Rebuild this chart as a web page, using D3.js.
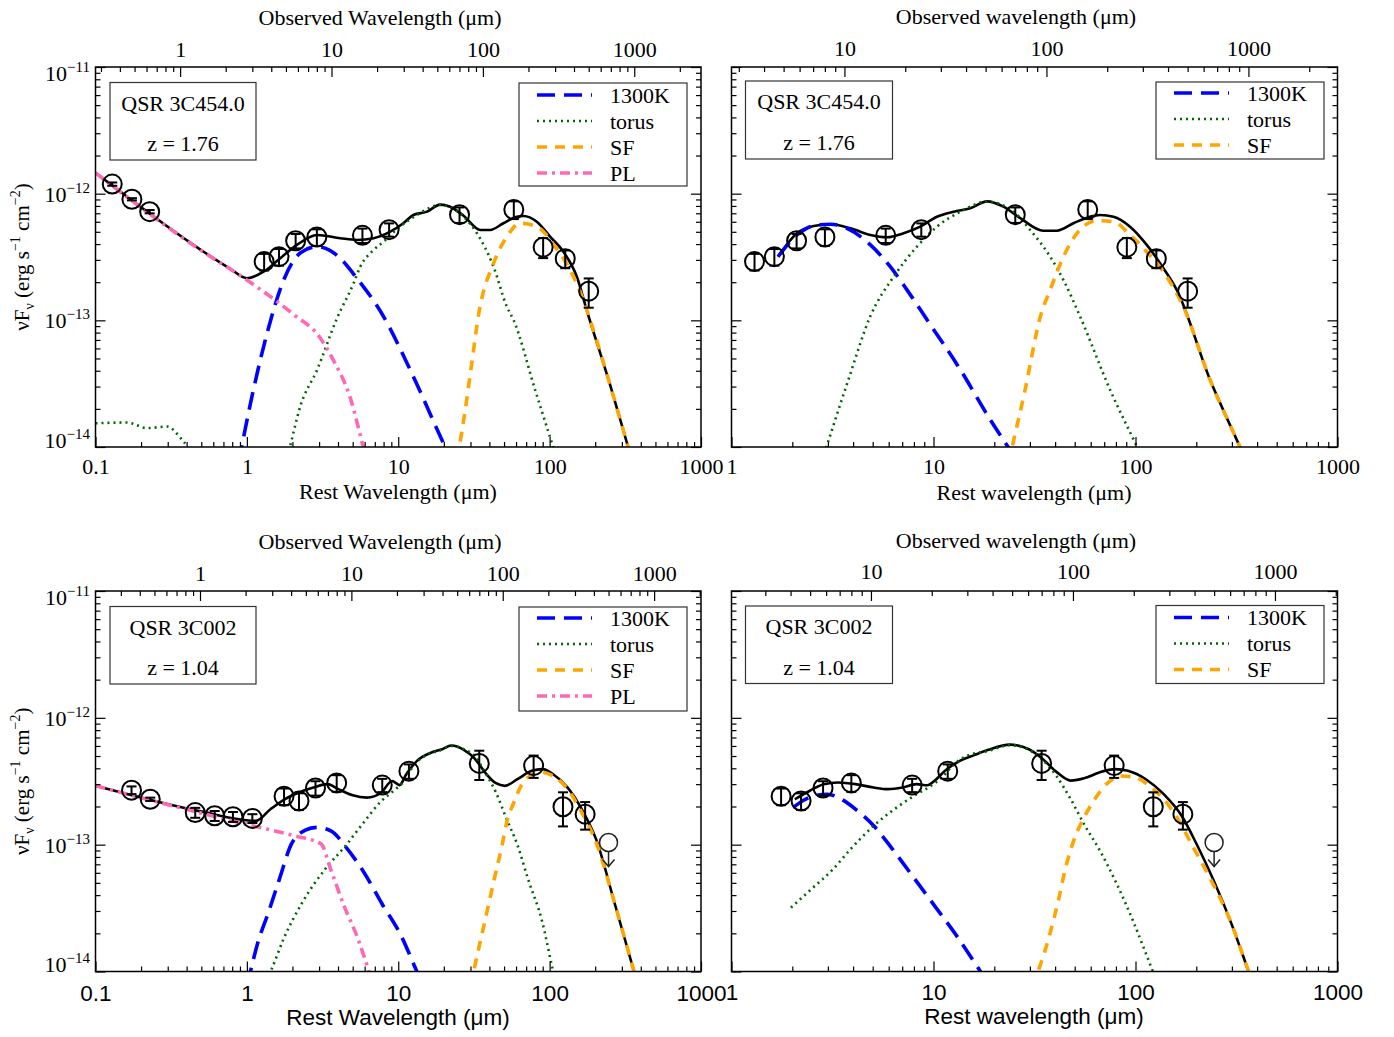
<!DOCTYPE html>
<html><head><meta charset="utf-8">
<script src="https://cdn.jsdelivr.net/npm/d3@7/dist/d3.min.js"></script>
<style>html,body{margin:0;padding:0;background:#fff}</style>
</head><body>
<svg id="chart" width="1394" height="1037" xmlns="http://www.w3.org/2000/svg"></svg>
<script>
// ---------------- photometry (rest wavelength in micron, nuFnu in erg/s/cm2) ----------------
const wl3C454   = [0.129, 0.174, 0.228, 1.30, 1.63, 2.10, 2.90, 5.80, 8.70, 25.4, 58.0, 90.6, 126.8, 181.2];
const flux3C454 = [1.19e-12, 9.03e-13, 7.21e-13, 2.91e-13, 3.18e-13, 4.25e-13, 4.55e-13, 4.69e-13, 5.20e-13, 6.83e-13, 7.50e-13, 3.78e-13, 3.07e-13, 1.70e-13];
const err3C454  = [0.03, 0.02, 0.03, 0.15, 0.15, 0.13, 0.15, 0.13, 0.12, 0.14, 0.16, 0.18, 0.16, 0.26];

const wl3C002   = [0.173, 0.230, 0.456, 0.613, 0.809, 1.087, 1.76, 2.21, 2.84, 3.92, 7.84, 11.76, 34.3, 78.4, 122.5, 171.6];
const flux3C002 = [2.69e-13, 2.28e-13, 1.79e-13, 1.69e-13, 1.66e-13, 1.61e-13, 2.41e-13, 2.21e-13, 2.80e-13, 3.07e-13, 2.95e-13, 3.80e-13, 4.37e-13, 4.20e-13, 1.99e-13, 1.74e-13];
const err3C002  = [0.07, 0.03, 0.09, 0.09, 0.09, 0.08, 0.15, 0.15, 0.13, 0.15, 0.12, 0.13, 0.26, 0.20, 0.30, 0.245];
const ulWl3C002 = [245];
const ulFlux3C002 = [1.04e-13];

// ---------------- model curves [rest wavelength, nuFnu] ----------------
// top-left (3C454.0, with power law)
const tlTotal = [[0.1,1.46e-12],[0.493,3.62e-13],[0.778,2.55e-13],[1.0,2.15e-13],[1.29,2.42e-13],[1.66,3.09e-13],[2.14,3.94e-13],[2.91,4.72e-13],[4.14,4.45e-13],[5.34,4.31e-13],[6.87,4.45e-13],[8.86,5.01e-13],[10.8,5.84e-13],[12.6,6.79e-13],[15.5,7.21e-13],[18.9,8.2e-13],[22.0,7.89e-13],[27.0,6.70e-13],[34.8,5.17e-13],[40.5,5.17e-13],[49.5,5.84e-13],[60.7,6.58e-13],[67.1,6.67e-13],[82.3,6.01e-13],[100.7,4.58e-13],[123.3,3.48e-13],[151.3,2.21e-13],[176,1.20e-13],[251,3.09e-14],[330,1.0e-14],[360,7e-15]];
const tlBB    = [[0.88,7.5e-15],[0.929,1.04e-14],[1.104,2.82e-14],[1.36,7.91e-14],[1.75,2.08e-13],[2.25,3.40e-13],[2.91,3.82e-13],[4.14,3.09e-13],[5.07,2.32e-13],[8.0,1.07e-13],[12.0,4.06e-14],[19.9,1.07e-14],[22,8.3e-15]];
const tlTorus = [[0.1,1.54e-14],[0.162,1.56e-14],[0.219,1.41e-14],[0.297,1.45e-14],[0.364,1.18e-14],[0.403,1.0e-14],[0.45,7e-15],[1.8,7.3e-15],[1.94,1.04e-14],[2.25,2.08e-14],[2.91,4.06e-14],[3.94,1.04e-13],[5.07,1.96e-13],[5.61,2.65e-13],[6.87,3.59e-13],[8.0,4.18e-13],[9.8,5.24e-13],[13.3,6.79e-13],[18.9,8.15e-13],[27.0,6.58e-13],[33.1,4.87e-13],[42.6,2.65e-13],[52.2,1.28e-13],[57.7,1.01e-13],[80.2,2.82e-14],[105.5,1.0e-14],[115,7.2e-15]];
const tlSF    = [[24.5,8e-15],[25.3,1.0e-14],[27.7,1.96e-14],[30.8,4.87e-14],[33.9,1.10e-13],[42.6,2.82e-13],[52.2,4.58e-13],[63.9,5.84e-13],[82.3,5.49e-13],[108.7,3.82e-13],[136.5,2.50e-13],[167,1.45e-13],[185,1.01e-13],[251,3.09e-14],[330,1.0e-14],[360,7e-15]];
const tlPL    = [[0.1,1.46e-12],[0.493,3.59e-13],[1.0,2.08e-13],[2.0,1.13e-13],[3.05,7.26e-14],[3.72,4.87e-14],[4.82,2.44e-14],[5.87,1.0e-14],[6.5,6.3e-15]];

// top-right (3C454.0, no power law)
const trTotal = [[1.70,3.18e-13],[2.11,4.87e-13],[2.55,5.56e-13],[3.09,5.73e-13],[3.88,5.33e-13],[4.87,4.72e-13],[5.89,4.53e-13],[7.11,4.87e-13],[8.60,5.49e-13],[10.4,6.58e-13],[12.6,7.21e-13],[15.2,7.67e-13],[18.4,8.7e-13],[22.2,7.89e-13],[26.9,6.40e-13],[35.0,5.10e-13],[40.8,5.10e-13],[49.3,5.84e-13],[59.6,6.58e-13],[66.8,6.79e-13],[77.8,6.58e-13],[94.0,5.49e-13],[113.7,3.94e-13],[137.4,2.58e-13],[160,1.74e-13],[234,3.39e-14],[329,1.0e-14],[360,7.2e-15]];
const trBB    = [[1.70,3.18e-13],[2.11,4.72e-13],[2.65,5.66e-13],[3.09,5.73e-13],[3.73,5.33e-13],[4.87,3.94e-13],[6.11,2.65e-13],[7.39,1.74e-13],[9.29,1.01e-13],[13.6,4.06e-14],[19.1,1.64e-14],[23.4,1.0e-14],[26,7.8e-15]];
const trTorus = [[2.7,6.5e-15],[2.95,1.0e-14],[3.79,3.39e-14],[4.87,1.08e-13],[6.35,2.21e-13],[8.28,3.82e-13],[10.4,5.49e-13],[13.6,7.21e-13],[18.4,8.65e-13],[24.9,7.21e-13],[30.1,5.17e-13],[37.8,3.18e-13],[44.0,2.08e-13],[53.2,1.07e-13],[74.9,2.82e-14],[101.8,1.0e-14],[112,7.2e-15]];
const trSF    = [[23.5,7.5e-15],[24.5,1.0e-14],[28.4,2.82e-14],[33.8,1.07e-13],[37.8,1.74e-13],[44.0,3.18e-13],[51.3,4.87e-13],[64.4,6.12e-13],[77.8,6.01e-13],[94.0,4.72e-13],[113.7,3.48e-13],[137.4,2.42e-13],[172.6,1.28e-13],[234,3.39e-14],[329,1.0e-14],[360,7.2e-15]];

// bottom-left (3C002, with power law)
const blTotal = [[0.1,2.91e-13],[0.493,1.83e-13],[1.148,1.54e-13],[1.43,1.90e-13],[1.776,2.28e-13],[2.21,2.58e-13],[2.75,2.82e-13],[3.41,3.0e-13],[4.02,2.74e-13],[5.0,2.45e-13],[6.21,2.35e-13],[7.73,2.58e-13],[9.10,3.18e-13],[10.2,2.95e-13],[11.3,3.59e-13],[13.3,4.58e-13],[16.6,5.33e-13],[19.5,5.66e-13],[22.4,6.05e-13],[27.1,5.60e-13],[31.9,4.80e-13],[37.5,3.70e-13],[44.2,3.05e-13],[50.6,2.91e-13],[61.3,3.28e-13],[76.2,3.82e-13],[89.8,3.94e-13],[105.5,3.59e-13],[131.5,2.82e-13],[163.3,1.90e-13],[203,1.10e-13],[270,3.39e-14],[361,1.0e-14],[390,7.2e-15]];
const blBB    = [[1.0,7.8e-15],[1.055,1.0e-14],[1.173,1.64e-14],[1.387,2.92e-14],[1.639,5.33e-14],[1.967,1.01e-13],[2.43,1.30e-13],[2.88,1.37e-13],[3.61,1.28e-13],[4.47,9.71e-14],[5.87,6.17e-14],[7.84,3.39e-14],[10.5,1.89e-14],[12.9,1.08e-14],[14,8.6e-15]];
const blTorus = [[1.35,8.5e-15],[1.456,1.04e-14],[1.742,1.79e-14],[2.32,3.49e-14],[3.32,6.51e-14],[4.48,9.77e-14],[5.89,1.49e-13],[7.73,2.21e-13],[9.61,2.74e-13],[10.7,3.09e-13],[12.6,4.18e-13],[15.7,5.17e-13],[18.5,5.49e-13],[22.4,6.01e-13],[27.1,5.66e-13],[31.9,5.01e-13],[37.5,3.71e-13],[44.2,2.58e-13],[52.0,1.59e-13],[61.0,1.01e-13],[72.1,5.33e-14],[89.2,2.49e-14],[104,1.08e-14],[112,7.3e-15]];
const blSF    = [[30,7.7e-15],[31.7,1.04e-14],[38.0,2.74e-14],[43.9,5.9e-14],[48.6,1.0e-13],[52.0,1.49e-13],[58.0,2.15e-13],[64.8,2.91e-13],[74.1,3.48e-13],[89.8,3.71e-13],[105.5,3.48e-13],[131.5,2.74e-13],[163.3,1.79e-13],[203,1.04e-13],[270,3.39e-14],[361,1.0e-14],[390,7.2e-15]];
const blPL    = [[0.1,2.91e-13],[1.087,1.41e-13],[2.09,1.17e-13],[3.10,1.01e-13],[3.56,6.51e-14],[4.40,3.26e-14],[5.44,1.79e-14],[6.34,1.04e-14],[6.8,8.1e-15]];

// bottom-right (3C002, no power law)
const brTotal = [[2.06,2.28e-13],[2.43,2.65e-13],[2.86,3.0e-13],[3.36,3.09e-13],[4.12,3.0e-13],[5.06,2.82e-13],[5.96,2.74e-13],[7.01,2.82e-13],[8.26,3.0e-13],[9.33,2.94e-13],[10.1,3.18e-13],[11.4,3.82e-13],[13.5,4.58e-13],[15.9,5.08e-13],[18.7,5.6e-13],[23.9,6.15e-13],[29.3,5.7e-13],[34.4,4.8e-13],[40.6,3.75e-13],[47.8,3.2e-13],[56.2,3.35e-13],[66.2,3.71e-13],[79.6,3.94e-13],[91.7,3.82e-13],[112.5,3.28e-13],[138,2.50e-13],[169.2,1.69e-13],[199.5,1.03e-13],[297,2.43e-14],[363,1.0e-14],[400,6.5e-15]];
const brBB    = [[2.02,1.96e-13],[2.24,2.21e-13],[2.63,2.45e-13],[2.98,2.50e-13],[3.50,2.28e-13],[4.12,1.90e-13],[5.06,1.41e-13],[6.18,9.49e-14],[7.56,6.17e-14],[10.15,3.28e-14],[13.05,1.90e-14],[16.8,1.04e-14],[19,7.7e-15]];
const brTorus = [[1.97,3.19e-14],[2.48,4.45e-14],[3.18,6.40e-14],[3.88,9.20e-14],[5.06,1.41e-13],[6.74,2.02e-13],[8.26,2.50e-13],[9.72,2.91e-13],[11.0,3.39e-13],[12.4,4.18e-13],[14.6,5.01e-13],[18.7,5.49e-13],[23.9,6.09e-13],[29.3,5.66e-13],[34.4,4.72e-13],[40.6,3.48e-13],[47.8,2.28e-13],[56.2,1.41e-13],[66.8,8.91e-14],[80.2,5.02e-14],[98.0,2.43e-14],[119.9,1.07e-14],[130,7.7e-15]];
const brSF    = [[31,7.6e-15],[33.2,1.04e-14],[37.4,1.89e-14],[41.4,3.57e-14],[45.4,6.88e-14],[49.7,1.10e-13],[56.2,1.69e-13],[63.6,2.35e-13],[71.8,3.0e-13],[84.6,3.48e-13],[99.5,3.39e-13],[117.3,2.91e-13],[138,2.28e-13],[162.5,1.59e-13],[191.4,9.77e-14],[228.6,5.84e-14],[297,2.43e-14],[363,1.0e-14],[400,6.5e-15]];

// legend / label texts
const legendLabels = {bb:'1300K', torus:'torus', sf:'SF', pl:'PL'};

// ---------------- drawing ----------------
const SERIF = "'Liberation Serif','Times New Roman',Times,serif";
const SANS  = "'Liberation Sans',Arial,Helvetica,sans-serif";
const svg = d3.select('#chart').attr('font-family', SERIF);
svg.append('rect').attr('width',1394).attr('height',1037).attr('fill','#fff');

const STY = {
  bb:    {color:'#0000ff', dash:'18,9',      w:3.6},
  torus: {color:'#006400', dash:'2,4',       w:2.6},
  sf:    {color:'#ffa500', dash:'10,8',      w:3.6},
  pl:    {color:'#ff69b4', dash:'10,5,3,5',  w:3.6}
};

const panels = [
  {id:'tl', x0:95.5, x1:701, y0:67, y1:447, xDom:[0.1,1000], z:1.76, yLabels:true,
   wl:wl3C454, flux:flux3C454, err:err3C454, ulWl:[], ulFlux:[], minWl:0,
   total:tlTotal, comps:[['bb',tlBB],['torus',tlTorus],['sf',tlSF],['pl',tlPL]],
   name:'QSR 3C454.0', zText:'z = 1.76', box:[110,82.5,146,77.5], legend:[519,83,168,103,12],
   obsTitle:'Observed Wavelength (μm)', obsX:380, obsY:25, topLabY:57,
   restTitle:'Rest Wavelength (μm)', restX:398, restY:499, botLabY:474, botFont:SERIF, botSize:22},
  {id:'tr', x0:731.5, x1:1337.5, y0:67, y1:447, xDom:[1,1000], z:1.76, yLabels:false,
   wl:wl3C454, flux:flux3C454, err:err3C454, ulWl:[], ulFlux:[], minWl:1.2,
   total:trTotal, comps:[['bb',trBB],['torus',trTorus],['sf',trSF]],
   name:'QSR 3C454.0', zText:'z = 1.76', box:[745.5,81,147,78], legend:[1156,82,168,77,11],
   obsTitle:'Observed wavelength (μm)', obsX:1016, obsY:24, topLabY:56,
   restTitle:'Rest wavelength (μm)', restX:1034, restY:500, botLabY:474, botFont:SERIF, botSize:22},
  {id:'bl', x0:95.5, x1:701, y0:591, y1:971.5, xDom:[0.1,1000], z:1.04, yLabels:true,
   wl:wl3C002, flux:flux3C002, err:err3C002, ulWl:ulWl3C002, ulFlux:ulFlux3C002, minWl:0,
   total:blTotal, comps:[['bb',blBB],['torus',blTorus],['sf',blSF],['pl',blPL]],
   name:'QSR 3C002', zText:'z = 1.04', box:[110,606.5,146,77.5], legend:[519,607,168,104,11],
   obsTitle:'Observed Wavelength (μm)', obsX:380, obsY:549, topLabY:581,
   restTitle:'Rest Wavelength (μm)', restX:398, restY:1025, botLabY:1001, botFont:SANS, botSize:22.5},
  {id:'br', x0:731.5, x1:1337.5, y0:591, y1:971.5, xDom:[1,1000], z:1.04, yLabels:false,
   wl:wl3C002, flux:flux3C002, err:err3C002, ulWl:ulWl3C002, ulFlux:ulFlux3C002, minWl:1.2,
   total:brTotal, comps:[['bb',brBB],['torus',brTorus],['sf',brSF]],
   name:'QSR 3C002', zText:'z = 1.04', box:[745.5,606,147,77.5], legend:[1156,605.5,168,78,12],
   obsTitle:'Observed wavelength (μm)', obsX:1016, obsY:548, topLabY:579,
   restTitle:'Rest wavelength (μm)', restX:1034, restY:1024, botLabY:1000, botFont:SANS, botSize:22.5}
];

function decades(a,b){
  const out=[];
  for(let e=Math.floor(Math.log10(a))-1;e<=Math.ceil(Math.log10(b))+1;e++){
    const v=+Math.pow(10,e).toPrecision(6);
    if(v>=a*0.9999 && v<=b*1.0001) out.push(v);
  }
  return out;
}
function minors(a,b){
  const out=[];
  for(let e=Math.floor(Math.log10(a))-1;e<=Math.ceil(Math.log10(b))+1;e++){
    for(let k=2;k<=9;k++){
      const v=+(k*Math.pow(10,e)).toPrecision(6);
      if(v>a*1.0001 && v<b*0.9999) out.push(v);
    }
  }
  return out;
}
const fmtWl = d => d>=1 ? d3.format('d')(d) : String(+d.toPrecision(3));

function cleanAxis(sel){
  sel.select('.domain').remove();
  sel.attr('font-family',null).attr('font-size',null);
  sel.selectAll('line').attr('stroke','#000').attr('stroke-width',1.2);
  sel.selectAll('text').attr('fill','#000');
}

function drawPanel(p){
  const x  = d3.scaleLog().domain(p.xDom).range([p.x0,p.x1]);
  const y  = d3.scaleLog().domain([1e-14,1e-11]).range([p.y1,p.y0]);
  const xo = d3.scaleLog().domain([p.xDom[0]*(1+p.z), p.xDom[1]*(1+p.z)]).range([p.x0,p.x1]);
  const g = svg.append('g').attr('class','panel-'+p.id);

  const clipId='clip-'+p.id;
  svg.append('clipPath').attr('id',clipId).append('rect')
    .attr('x',p.x0).attr('y',p.y0).attr('width',p.x1-p.x0).attr('height',p.y1-p.y0);

  const line = d3.line().x(d=>x(d[0])).y(d=>y(d[1])).curve(d3.curveMonotoneX);
  const cg = g.append('g').attr('clip-path',`url(#${clipId})`);
  cg.append('path').attr('d',line(p.total)).attr('fill','none')
    .attr('stroke','#000').attr('stroke-width',2.6).attr('stroke-linejoin','round');
  p.comps.forEach(([k,arr])=>{
    const s=STY[k];
    cg.append('path').attr('d',line(arr)).attr('fill','none')
      .attr('stroke',s.color).attr('stroke-width',s.w).attr('stroke-dasharray',s.dash);
  });

  // data points
  const pts = p.wl.map((w,i)=>({w, f:p.flux[i], e:p.err[i]})).filter(d=>d.w>=p.minWl);
  const pg = g.append('g');
  pts.forEach(d=>{
    const cx=x(d.w), cy=y(d.f), yt=y(d.f*(1+d.e)), yb=y(d.f*(1-d.e));
    pg.append('line').attr('x1',cx).attr('x2',cx).attr('y1',yt).attr('y2',yb).attr('stroke','#000').attr('stroke-width',2);
    [yt,yb].forEach(yy=>pg.append('line').attr('x1',cx-5).attr('x2',cx+5).attr('y1',yy).attr('y2',yy).attr('stroke','#000').attr('stroke-width',2));
    pg.append('circle').attr('cx',cx).attr('cy',cy).attr('r',9.5).attr('fill','none').attr('stroke','#000').attr('stroke-width',2);
  });
  p.ulWl.forEach((w,i)=>{
    const cx=x(w), cy=y(p.ulFlux[i]);
    pg.append('circle').attr('cx',cx).attr('cy',cy).attr('r',9).attr('fill','none').attr('stroke','#222').attr('stroke-width',1.5);
    pg.append('line').attr('x1',cx).attr('x2',cx).attr('y1',cy+9).attr('y2',cy+24).attr('stroke','#222').attr('stroke-width',1.5);
    pg.append('polyline').attr('points',`${cx-6},${cy+17} ${cx},${cy+24} ${cx+6},${cy+17}`).attr('fill','none').attr('stroke','#222').attr('stroke-width',1.5);
  });

  // axes
  const xMaj=decades(p.xDom[0],p.xDom[1]), xMin=minors(p.xDom[0],p.xDom[1]);
  const oMaj=decades(p.xDom[0]*(1+p.z),p.xDom[1]*(1+p.z)), oMin=minors(p.xDom[0]*(1+p.z),p.xDom[1]*(1+p.z));
  const yMaj=[1e-14,1e-13,1e-12,1e-11], yMin=minors(1e-14,1e-11);
  const ag = g.append('g');

  // bottom
  ag.append('g').attr('transform',`translate(0,${p.y1})`)
    .call(d3.axisBottom(x).tickValues(xMin).tickSize(-5).tickFormat('')).call(cleanAxis);
  ag.append('g').attr('transform',`translate(0,${p.y1})`)
    .call(d3.axisBottom(x).tickValues(xMaj).tickSize(-10).tickFormat(fmtWl)).call(cleanAxis)
    .call(s=>s.selectAll('text').attr('dy',0).attr('y',p.botLabY-p.y1)
      .attr('font-family',p.botFont).attr('font-size',p.botSize));
  // top (observed)
  ag.append('g').attr('transform',`translate(0,${p.y0})`)
    .call(d3.axisTop(xo).tickValues(oMin).tickSize(-5).tickFormat('')).call(cleanAxis);
  ag.append('g').attr('transform',`translate(0,${p.y0})`)
    .call(d3.axisTop(xo).tickValues(oMaj).tickSize(-10).tickFormat(fmtWl)).call(cleanAxis)
    .call(s=>s.selectAll('text').attr('dy',0).attr('y',p.topLabY-p.y0)
      .attr('font-family',SERIF).attr('font-size',22));
  // left
  ag.append('g').attr('transform',`translate(${p.x0},0)`)
    .call(d3.axisLeft(y).tickValues(yMin).tickSize(-5).tickFormat('')).call(cleanAxis);
  const la = ag.append('g').attr('transform',`translate(${p.x0},0)`)
    .call(d3.axisLeft(y).tickValues(yMaj).tickSize(-10).tickFormat(d=>String(Math.round(Math.log10(d))))).call(cleanAxis);
  if(p.yLabels){
    la.selectAll('text').each(function(d){
      const ex=Math.round(Math.log10(d));
      const off = ex===-11 ? 13 : (ex===-14 ? 0 : 7.5);
      const t=d3.select(this);
      t.text('').attr('x',90-p.x0).attr('dy',0).attr('y',off)
        .attr('font-family',SERIF).attr('font-size',22).attr('text-anchor','end');
      t.append('tspan').text('10');
      t.append('tspan').attr('font-size',15).attr('dy',-9).text('−'+Math.abs(ex));
    });
  } else {
    la.selectAll('text').remove();
  }
  // right
  ag.append('g').attr('transform',`translate(${p.x1},0)`)
    .call(d3.axisRight(y).tickValues(yMin).tickSize(-5).tickFormat('')).call(cleanAxis);
  ag.append('g').attr('transform',`translate(${p.x1},0)`)
    .call(d3.axisRight(y).tickValues(yMaj).tickSize(-10).tickFormat('')).call(cleanAxis);
  // frame
  ag.append('rect').attr('x',p.x0).attr('y',p.y0).attr('width',p.x1-p.x0).attr('height',p.y1-p.y0)
    .attr('fill','none').attr('stroke','#000').attr('stroke-width',1.5);

  // titles
  g.append('text').attr('x',p.obsX).attr('y',p.obsY).attr('text-anchor','middle')
    .attr('font-size',22).text(p.obsTitle);
  g.append('text').attr('x',p.restX).attr('y',p.restY).attr('text-anchor','middle')
    .attr('font-family',p.botFont).attr('font-size',p.botSize).text(p.restTitle);

  if(p.yLabels){
    const cy=(p.y0+p.y1)/2;
    const t=g.append('text').attr('transform',`translate(29,${cy}) rotate(-90)`)
      .attr('text-anchor','middle').attr('font-size',21);
    t.append('tspan').text('νF');
    t.append('tspan').attr('font-size',14).attr('dy',5).text('ν');
    t.append('tspan').attr('dy',-5).text(' (erg s');
    t.append('tspan').attr('font-size',14).attr('dy',-9).text('−1');
    t.append('tspan').attr('dy',9).text(' cm');
    t.append('tspan').attr('font-size',14).attr('dy',-9).text('−2');
    t.append('tspan').attr('dy',9).text(')');
  }

  // object label box
  const [bx,by,bw,bh]=p.box;
  g.append('rect').attr('x',bx).attr('y',by).attr('width',bw).attr('height',bh)
    .attr('fill','#fff').attr('stroke','#333').attr('stroke-width',1.2);
  g.append('text').attr('x',bx+bw/2).attr('y',by+28).attr('text-anchor','middle').attr('font-size',22).text(p.name);
  g.append('text').attr('x',bx+bw/2).attr('y',by+68.5).attr('text-anchor','middle').attr('font-size',22).text(p.zText);

  // legend
  const [lx,ly,lw,lh,lfirst]=p.legend;
  g.append('rect').attr('x',lx).attr('y',ly).attr('width',lw).attr('height',lh)
    .attr('fill','#fff').attr('stroke','#333').attr('stroke-width',1.2);
  p.comps.forEach(([k],i)=>{
    const s=STY[k], yy=ly+lfirst+26*i;
    g.append('line').attr('x1',lx+18).attr('x2',lx+73).attr('y1',yy).attr('y2',yy)
      .attr('stroke',s.color).attr('stroke-width',s.w).attr('stroke-dasharray',s.dash);
    g.append('text').attr('x',lx+91).attr('y',yy+7.5).attr('font-size',22).text(legendLabels[k]);
  });
}

panels.forEach(drawPanel);
</script>
</body></html>
